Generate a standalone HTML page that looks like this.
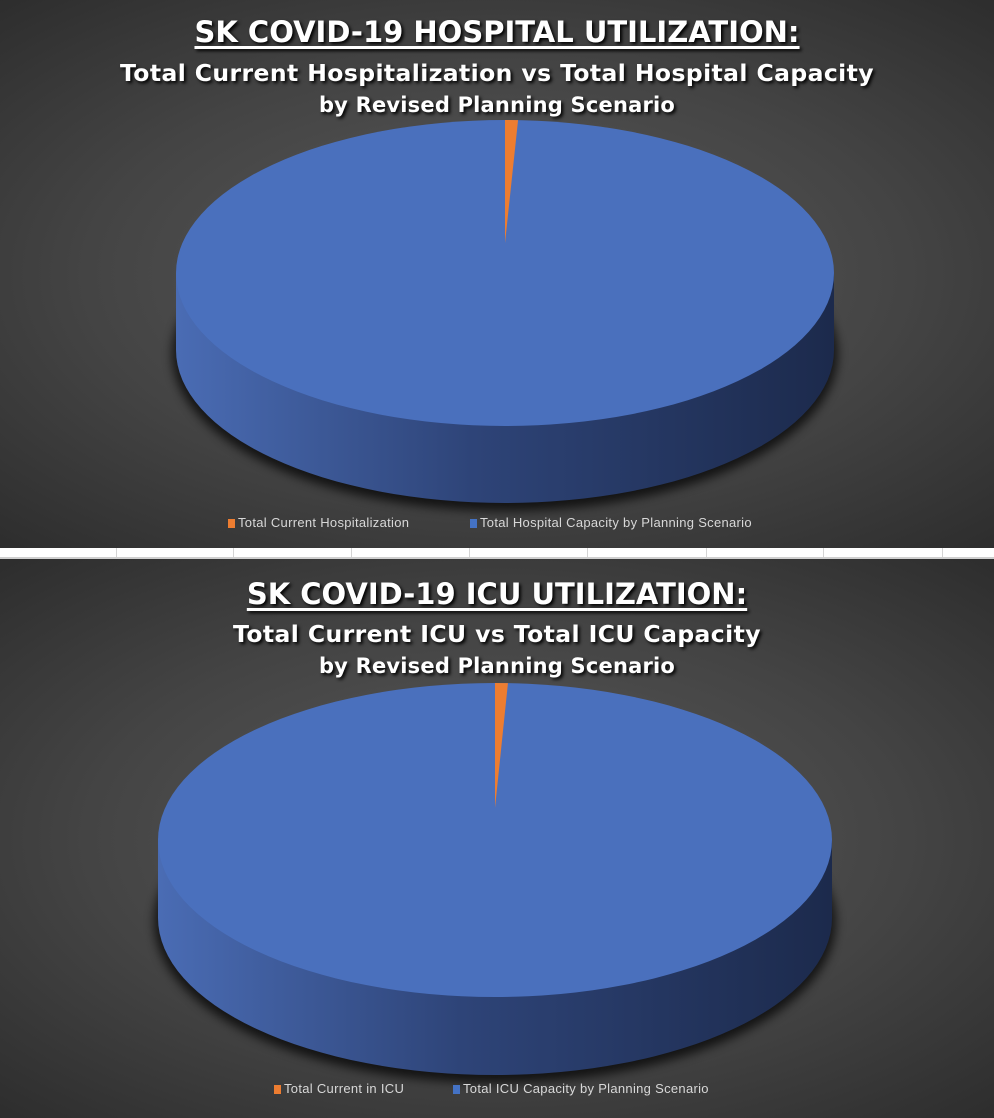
<!DOCTYPE html>
<html><head><meta charset="utf-8">
<style>
html,body{margin:0;padding:0;background:#fff;}
body{width:994px;height:1118px;position:relative;overflow:hidden;font-family:"Liberation Sans",sans-serif;}
.panel{position:absolute;left:0;width:994px;background:radial-gradient(ellipse 75% 70% at 50% 50%,#5a5a5a 0%,#444 55%,#2c2c2c 100%);}
.t1{position:absolute;left:0;width:994px;text-align:center;color:#fff;font-weight:bold;font-size:29px;text-decoration:underline;text-decoration-thickness:3px;text-underline-offset:4px;text-shadow:2px 2px 3px #000;font-family:"DejaVu Sans","Liberation Sans",sans-serif;}
.t2{position:absolute;left:0;width:994px;text-align:center;color:#fff;font-weight:bold;font-size:23.5px;text-shadow:2px 2px 3px #000;font-family:"DejaVu Sans","Liberation Sans",sans-serif;letter-spacing:0.4px}
.t3{font-size:21px;letter-spacing:0.2px}
.leg{position:absolute;font-size:13px;color:#d8d8d8;white-space:nowrap;letter-spacing:0.3px}
.sw{display:inline-block;width:7px;height:9px;margin-right:3px;vertical-align:-1px}
.sep{position:absolute;top:548px;left:0;width:994px;height:9px;background:#fff;border-bottom:2px solid #cfcfcf;}
.gl{position:absolute;top:548px;width:1px;height:9px;background:#d4d4d4}
</style></head><body>
<div class="panel" style="top:0;height:548px"></div>
<div class="sep"></div>
<div class="gl" style="left:116px"></div>
<div class="gl" style="left:233px"></div>
<div class="gl" style="left:351px"></div>
<div class="gl" style="left:469px"></div>
<div class="gl" style="left:587px"></div>
<div class="gl" style="left:706px"></div>
<div class="gl" style="left:823px"></div>
<div class="gl" style="left:942px"></div>
<div class="panel" style="top:559px;height:559px"></div>
<svg id="svg" width="994" height="1118" style="position:absolute;left:0;top:0">
<defs>
<linearGradient id="side" x1="0" x2="1" y1="0" y2="0">
<stop offset="0" stop-color="#4a6cb4"/><stop offset="0.45" stop-color="#2e4478"/><stop offset="1" stop-color="#1c2a4c"/>
</linearGradient>
<filter id="sh" x="-10%" y="-10%" width="120%" height="130%"><feGaussianBlur stdDeviation="5"/></filter>
</defs>
</svg>
<div class="t1" style="top:15px">SK COVID-19 HOSPITAL UTILIZATION:</div>
<div class="t2" style="top:59px">Total Current Hospitalization vs Total Hospital Capacity</div>
<div class="t2 t3" style="top:93px">by Revised Planning Scenario</div>
<div class="leg" style="left:228px;top:515px"><span class="sw" style="background:#ed7d31"></span>Total Current Hospitalization</div>
<div class="leg" style="left:470px;top:515px"><span class="sw" style="background:#4472c4"></span>Total Hospital Capacity by Planning Scenario</div>
<div class="t1" style="top:577px">SK COVID-19 ICU UTILIZATION:</div>
<div class="t2" style="top:620px">Total Current ICU vs Total ICU Capacity</div>
<div class="t2 t3" style="top:654px">by Revised Planning Scenario</div>
<div class="leg" style="left:274px;top:1081px"><span class="sw" style="background:#ed7d31"></span>Total Current in ICU</div>
<div class="leg" style="left:453px;top:1081px"><span class="sw" style="background:#4472c4"></span>Total ICU Capacity by Planning Scenario</div>
<script>
const hospCategories = ["Total Current Hospitalization","Total Hospital Capacity by Planning Scenario"];
const hospValues = [28, 4400];
const icuCategories = ["Total Current in ICU","Total ICU Capacity by Planning Scenario"];
const icuValues = [8, 1300];
const NS="http://www.w3.org/2000/svg";
const svg=document.getElementById('svg');
function mk(t,a){const e=document.createElementNS(NS,t);for(const k in a)e.setAttribute(k,a[k]);svg.appendChild(e);return e;}
function pie(vals,cats,g,prefix){
  const {cx,cy,rx,ry,d,ay}=g;
  const sh=mk('ellipse',{cx:cx,cy:cy+d+4,rx:rx+4,ry:ry+4,fill:'#000',opacity:0.7,filter:'url(#sh)'});
  
  
  const side=mk('path',{d:`M${cx-rx},${cy} L${cx-rx},${cy+d} A${rx},${ry} 0 0 0 ${cx+rx},${cy+d} L${cx+rx},${cy} Z`,fill:'url(#side)'});
  
  
  const top=mk('ellipse',{cx:cx,cy:cy,rx:rx,ry:ry,fill:'#4a70bd'});
  
  
  const tot=vals.reduce((a,b)=>a+b,0);
  const th=2*Math.PI*vals[0]/tot;
  const x1=cx, y1=cy-ry, x2=cx+rx*Math.sin(th), y2=cy-ry*Math.cos(th);
  const s=mk('path',{d:`M${cx},${ay} L${x1},${y1} A${rx},${ry} 0 0 1 ${x2},${y2} Z`,fill:'#ed7d31'});
  
  
}
pie(hospValues,hospCategories,{cx:505,cy:273,rx:329,ry:153,d:77,ay:243},'hospital');
pie(icuValues,icuCategories,{cx:495,cy:840,rx:337,ry:157,d:78,ay:808},'icu');
</script>
</body></html>
